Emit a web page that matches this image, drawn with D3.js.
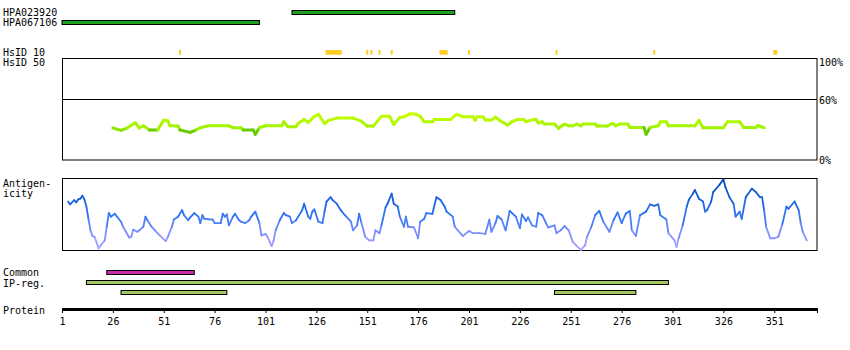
<!DOCTYPE html>
<html>
<head>
<meta charset="utf-8">
<script src="https://cdn.jsdelivr.net/npm/d3@7"></script>
<style>
  body { margin: 0; background: #fff; }
  text { font-family: "DejaVu Sans Mono", monospace; font-size: 10px; fill: #000; }
</style>
</head>
<body>
<svg id="chart" width="850" height="350"></svg>
<script>

// protein length and axis ticks
var proteinLength = 372;
var tickLabels = [1, 26, 51, 76, 101, 126, 151, 176, 201, 226, 251, 276, 301, 326, 351];

// antibodies: name, start, end
var antibodies = [["HPA023920", 114, 194], ["HPA067106", 1, 98]];

// HsID 10 hits (start, end residue)
var hsid10 = [[59, 59], [131, 138], [151, 151], [153, 153], [157, 157], [163, 163],
  [187, 190], [201, 201], [244, 244], [292, 292], [351, 352]];

// similarity (residue, percent)
var similarity = [[26,31.5],[30,29.2],[33,31.5],[37,36.7],[39,31.5],[41,33.7],[44,29.5],[48,29.5],
  [51,39.3],[53,38.5],[54,33.7],[58,33.5],[59,29.5],[64,27.2],[67,29.8],[69,31.8],[73,33.7],
  [83,33.7],[85,31.8],[89,31.8],[90,29.5],[95,29.5],[96,25.3],[98,31.8],[101,33.7],[109,33.7],
  [110,37.7],[112,32.8],[116,32.8],[117,36],[120,40],[122,37],[125,43],[127,45],[130,36],
  [132,39],[136,41.3],[144,41.3],[148,38.3],[151,33.4],[154,33.4],[156,38.3],[158,43],[162,43],
  [164,35],[167,42],[169,42.5],[172,45.5],[175,45],[177,43],[179,37.7],[183,37.7],[184,40],
  [192,40],[195,45],[198,42.6],[203,42.6],[204,39.3],[205,42.6],[208,42.3],[209,39.3],[212,39.3],
  [214,42.3],[216,39],[218,36.7],[220,34.4],[222,37.7],[225,40],[228,40],[229,37.7],[233,40],
  [234,40],[235,36.4],[237,37.7],[238,35.4],[243,35.4],[245,31.2],[248,35.4],[250,33.7],
  [252,33.7],[254,35.4],[256,33.7],[257,35.4],[263,35.4],[264,33.4],[269,33.4],[271,35.7],
  [272,35.7],[273,33.7],[275,35.4],[279,35.4],[280,32.1],[287,32.1],[288,25.3],[290,32.1],
  [294,33.7],[295,37.7],[298,37.7],[299,33.7],[312,33.7],[314,39],[316,31.8],[326,31.8],
  [328,37.7],[334,37.7],[336,32],[342,32],[343,34],[346,31.8]];

// antigenicity (residue, score 0-100 of box height)
var antigenicity = [[4,68],[5,64],[7,70],[8,67],[9,71],[10,72],[11,76],[12,71],[13,61],[14,44],
  [15,28],[16,20],[17,19],[19,3],[20,7],[22,14],[23,33],[24,52],[25,47],[27,51],[28,47],[30,40],
  [31,33],[34,18],[35,19],[36,29],[38,26],[39,28],[41,33],[42,47],[43,42],[45,33],[47,27],[49,21],
  [52,13],[53,19],[55,33],[56,43],[58,47],[60,56],[61,49],[63,42],[64,46],[66,52],[68,47],[69,38],
  [70,49],[71,44],[75,43],[76,38],[79,38],[80,51],[81,47],[82,50],[83,35],[85,47],[86,51],[88,42],
  [89,40],[91,38],[93,42],[94,47],[96,54],[98,38],[99,21],[101,23],[102,19],[104,6],[105,14],
  [106,28],[108,42],[110,52],[111,49],[113,47],[114,38],[116,42],[119,56],[120,65],[122,47],
  [123,44],[124,54],[125,57],[127,40],[129,38],[130,54],[131,68],[133,74],[134,70],[136,65],
  [138,56],[140,49],[143,40],[144,28],[146,35],[147,51],[148,40],[150,19],[152,14],[154,14],
  [155,28],[157,24],[158,35],[160,60],[161,65],[163,79],[164,65],[166,61],[167,47],[169,33],
  [170,47],[171,33],[174,32],[176,17],[177,40],[179,44],[180,52],[183,51],[185,74],[187,70],
  [189,61],[190,54],[193,47],[194,33],[198,20],[201,27],[203,24],[206,24],[209,23],[211,43],
  [212,26],[214,38],[215,48],[217,43],[219,28],[221,55],[224,47],[226,31],[227,50],[229,41],
  [230,46],[232,35],[234,33],[235,52],[237,49],[239,37],[240,32],[243,35],[244,24],[246,28],
  [248,34],[250,28],[252,12],[254,6],[256,1],[258,7],[259,19],[261,32],[263,49],[265,55],
  [267,40],[270,26],[272,42],[274,53],[276,38],[278,51],[280,55],[281,28],[283,20],[285,49],
  [288,54],[290,64],[292,62],[294,64],[295,49],[298,43],[299,24],[302,14],[303,5],[304,17],
  [306,35],[308,61],[309,70],[311,79],[312,84],[314,72],[316,68],[317,54],[318,56],[320,68],
  [321,81],[324,91],[326,99],[327,88],[329,74],[331,65],[332,47],[334,54],[335,44],[337,74],
  [340,86],[342,81],[344,74],[345,74],[346,56],[347,33],[349,17],[351,17],[353,19],[355,37],
  [357,61],[358,58],[361,68],[363,56],[364,38],[365,26],[367,14]];

// bottom tracks: row, start, end
var commonRegions = [[23, 66]];
var ipRegions = [[0, 13, 299], [1, 30, 82], [1, 243, 283]];

var svg = d3.select("#chart");

var x = d3.scaleLinear().domain([1, proteinLength]).range([62, 817]);
var ySim = d3.scaleLinear().domain([0, 100]).range([160, 58.5]);
var yAnt = d3.scaleLinear().domain([0, 100]).range([250.5, 178.5]);

var simColor = d3.scaleLinear().domain([29.8, 30.6, 46])
  .range(["#66cc00", "#9cf200", "#ccff00"]).clamp(true);
var antColor = d3.scaleLinear().domain([0, 25, 50, 100])
  .range(["#b4a4ff", "#7f8fff", "#2a72f4", "#0048b4"]).clamp(true);

// left labels
var labels = [["HPA023920", 16.3], ["HPA067106", 26.3], ["HsID 10", 55.6], ["HsID 50", 66.3],
  ["Antigen-", 187], ["icity", 197], ["Common", 276.3], ["IP-reg.", 287], ["Protein", 313.6]];
svg.selectAll("text.lab").data(labels).enter().append("text")
  .attr("class", "lab")
  .attr("x", 3).attr("y", d => d[1])
  .text(d => d[0]);

// antibody bars
svg.selectAll("rect.ab").data(antibodies).enter().append("rect")
  .attr("x", d => x(d[1]))
  .attr("y", (d, i) => 10.5 + i * 10)
  .attr("width", d => x(d[2]) - x(d[1]))
  .attr("height", 4)
  .attr("fill", "#1ea01e")
  .attr("stroke", "#000");

// HsID 10 marks
svg.selectAll("rect.hs").data(hsid10).enter().append("rect")
  .attr("x", d => x(d[0] - 0.5))
  .attr("y", 50)
  .attr("width", d => x(d[1] + 0.5) - x(d[0] - 0.5))
  .attr("height", 4.7)
  .attr("fill", "#ffcc22");

// similarity box
svg.append("rect")
  .attr("x", 62.5).attr("y", 58.5)
  .attr("width", 754.5).attr("height", 101.5)
  .attr("fill", "none").attr("stroke", "#000");
svg.append("line")
  .attr("x1", 62).attr("x2", 817)
  .attr("y1", Math.round(ySim(60)) + 0.5).attr("y2", Math.round(ySim(60)) + 0.5)
  .attr("stroke", "#000");

var pct = [["100%", 66], ["60%", 104.3], ["0%", 164]];
svg.selectAll("text.pct").data(pct).enter().append("text")
  .attr("x", 819).attr("y", d => d[1]).text(d => d[0]);

// similarity line, coloured per segment
var simSegs = d3.pairs(similarity);
svg.append("g").selectAll("line").data(simSegs).enter().append("line")
  .attr("x1", d => x(d[0][0])).attr("y1", d => ySim(d[0][1]))
  .attr("x2", d => x(d[1][0])).attr("y2", d => ySim(d[1][1]))
  .attr("stroke", d => simColor((d[0][1] + d[1][1]) / 2))
  .attr("stroke-width", 3)
  .attr("stroke-linecap", "round");

// antigenicity box
svg.append("rect")
  .attr("x", 62.5).attr("y", 178.5)
  .attr("width", 754.5).attr("height", 72)
  .attr("fill", "none").attr("stroke", "#000");

var antSegs = d3.pairs(antigenicity);
svg.append("g").selectAll("line").data(antSegs).enter().append("line")
  .attr("x1", d => x(d[0][0])).attr("y1", d => yAnt(d[0][1]))
  .attr("x2", d => x(d[1][0])).attr("y2", d => yAnt(d[1][1]))
  .attr("stroke", d => antColor((d[0][1] + d[1][1]) / 2))
  .attr("stroke-width", 1.8)
  .attr("stroke-linecap", "round");

// common + IP regions
svg.selectAll("rect.cm").data(commonRegions).enter().append("rect")
  .attr("x", d => x(d[0])).attr("y", 270.5)
  .attr("width", d => x(d[1]) - x(d[0])).attr("height", 4)
  .attr("fill", "#cc2aaa").attr("stroke", "#000");

svg.selectAll("rect.ip").data(ipRegions).enter().append("rect")
  .attr("x", d => x(d[1])).attr("y", d => 280.5 + d[0] * 10)
  .attr("width", d => x(d[2]) - x(d[1])).attr("height", 4)
  .attr("fill", "#a2c75e").attr("stroke", "#000");

// protein axis
svg.append("rect")
  .attr("x", 62).attr("y", 308)
  .attr("width", 755).attr("height", 3)
  .attr("fill", "#000");

var xAxis = d3.axisBottom(x)
  .tickValues(tickLabels.concat([proteinLength]))
  .tickFormat(d => d == proteinLength ? "" : d)
  .tickSize(5)
  .tickSizeOuter(0);

var ax = svg.append("g")
  .attr("transform", "translate(0,308)")
  .call(xAxis);
ax.select(".domain").remove();
ax.selectAll(".tick line").attr("stroke", "#000");
ax.selectAll(".tick text")
  .attr("y", 17.3).attr("dy", null)
  .style("font-family", "DejaVu Sans Mono, monospace")
  .style("font-size", "10px")
  .attr("fill", "#000");

</script>
</body>
</html>
